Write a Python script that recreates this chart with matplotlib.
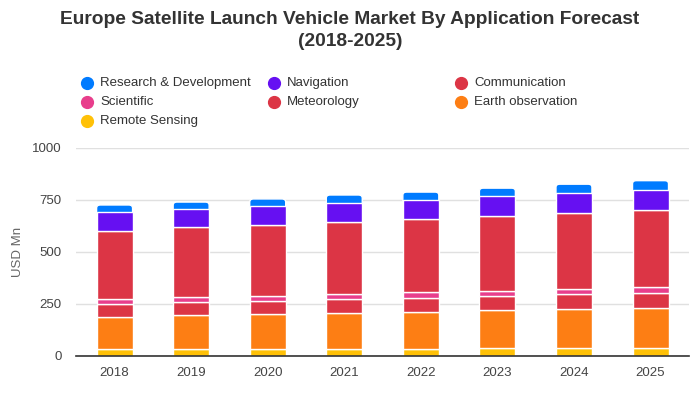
import matplotlib
matplotlib.use("Agg")
import matplotlib.pyplot as plt
from matplotlib.lines import Line2D
from matplotlib.patches import FancyBboxPatch
import numpy as np

years = ["2018", "2019", "2020", "2021", "2022", "2023", "2024", "2025"]
remote_sensing = [34, 32, 34, 34, 34, 38, 38, 40]
earth_observation = [152, 164, 168, 173, 178, 183, 188, 191]
meteorology = [62, 62, 61, 67, 67, 67, 72, 70]
scientific = [24, 26, 24, 24, 28, 24, 26, 31]
communication = [330, 335, 343, 344, 351, 361, 364, 368]
navigation = [90, 86, 91, 92, 90, 94, 96, 98]
research_dev = [34, 35, 34, 40, 40, 40, 42, 45]

series = [
    ("Remote Sensing", remote_sensing, "#ffc107"),
    ("Earth observation", earth_observation, "#fd7e14"),
    ("Meteorology", meteorology, "#dc3545"),
    ("Scientific", scientific, "#e83e8c"),
    ("Communication", communication, "#dc3545"),
    ("Navigation", navigation, "#6610f2"),
    ("Research & Development", research_dev, "#007bff"),
]

plt.rcParams['font.family'] = ['Liberation Sans', 'DejaVu Sans']

fig = plt.figure(figsize=(7, 4), dpi=100)
ax = fig.add_axes([0.109, 0.11, 0.875, 0.52])

x = np.arange(len(years))
bar_w = 0.47
bottom = np.zeros(len(years))
for idx, (name, vals, col) in enumerate(series):
    vals = np.array(vals, dtype=float)
    bars = ax.bar(x, vals, bottom=bottom, width=bar_w, color=col, edgecolor="white",
                  linewidth=1.0, zorder=3)
    if idx == len(series) - 1:
        # rounded top segment
        for r in bars:
            r.set_visible(False)
            bx, by, bw, bh = r.get_x(), r.get_y(), r.get_width(), r.get_height()
            ext = 15
            p = FancyBboxPatch((bx, by - ext), bw, bh + ext,
                               boxstyle="round,pad=0,rounding_size=0.05",
                               mutation_aspect=300, facecolor=col,
                               edgecolor="white", linewidth=1.0, zorder=2.9)
            ax.add_patch(p)
    bottom += vals

ax.set_xlim(-0.5, len(years) - 0.5)
ax.set_ylim(0, 1000)
ax.set_yticks([0, 250, 500, 750, 1000])
ax.set_xticks(x)
ax.set_xticklabels(years)
ax.tick_params(axis="both", length=0, labelsize=9.5, colors="#444444")
ax.tick_params(axis="x", pad=8)
ax.tick_params(axis="y", pad=10.5)
ax.grid(axis="y", color="#e0e0e0", linewidth=1, zorder=0)
for s in ["top", "right", "left"]:
    ax.spines[s].set_visible(False)
ax.spines["bottom"].set_color("#333333")
ax.spines["bottom"].set_linewidth(1.2)
ax.spines["bottom"].set_zorder(4)
ax.set_ylabel("USD Mn", fontsize=9.5, color="#666666", labelpad=6)

fig.text(0.5, 1 - 19.5 / 400, "Europe Satellite Launch Vehicle Market By Application Forecast",
         ha="center", va="center", fontsize=13.75, fontweight="bold", color="#333333")
fig.text(0.5, 1 - 42 / 400, "(2018-2025)", ha="center", va="center", fontsize=13.75,
         fontweight="bold", color="#333333")

legend_order = [
    ("Research & Development", "#007bff"), ("Navigation", "#6610f2"), ("Communication", "#dc3545"),
    ("Scientific", "#e83e8c"), ("Meteorology", "#dc3545"), ("Earth observation", "#fd7e14"),
    ("Remote Sensing", "#ffc107"),
]
col_x = [87, 274, 461]
row_y = [83, 102, 121]
for i, (name, col) in enumerate(legend_order):
    cx = col_x[i % 3]
    cy = row_y[i // 3]
    fx = cx / 700
    fy = 1 - cy / 400
    fig.add_artist(Line2D([fx], [fy], marker="o", markersize=8.5, color=col,
                          linestyle="none", transform=fig.transFigure))
    fig.text(fx + 13 / 700, fy, name, ha="left", va="center", fontsize=9.5, color="#333333")

fig.savefig("out.png", dpi=100)
